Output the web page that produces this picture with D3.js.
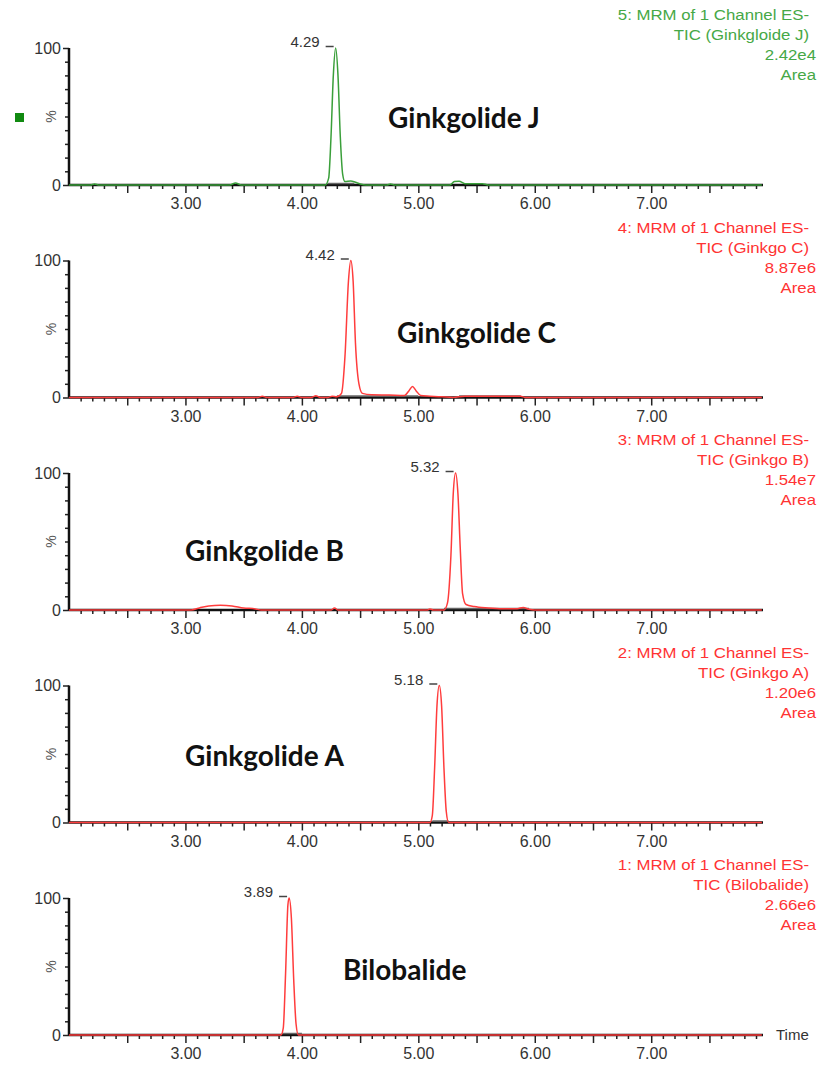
<!DOCTYPE html>
<html>
<head>
<meta charset="utf-8">
<script src="https://cdn.jsdelivr.net/npm/d3@7"></script>
<style>
  body { margin: 0; background: #fff; }
  svg { display: block; }
  .tick text { font-family: "Liberation Sans", Arial, sans-serif; }
</style>
</head>
<body>
<div id="chart"></div>
<script>
// chromatogram traces, [time (min), relative intensity %]
const traceJ = [[2.0,0],[2.18,0],[2.22,0.8],[2.26,0],[3.38,0],[3.43,1.5],[3.48,0],[4.2,0],[4.23,5],[4.25,35],[4.27,80],[4.29,100],[4.31,80],[4.33,35],[4.35,8],[4.37,2.5],[4.42,3],[4.46,2],[4.5,0.8],[4.55,0],[4.73,0],[4.76,0.8],[4.8,0],[5.27,0],[5.31,2.5],[5.35,2.8],[5.4,1],[5.55,1],[5.6,0],[7.95,0]];
const traceC = [[2.0,0],[3.62,0],[3.66,1],[3.7,0],[3.92,0],[3.96,1],[4.0,0],[4.08,0],[4.12,1.2],[4.16,0],[4.22,0],[4.26,1],[4.3,0.5],[4.34,3],[4.37,30],[4.4,85],[4.42,100],[4.44,85],[4.46,40],[4.49,10],[4.52,3],[4.6,2],[4.75,1.8],[4.88,1.5],[4.92,5],[4.95,8],[4.98,5],[5.02,1.5],[5.1,1],[5.2,0.5],[5.3,0],[5.4,1],[5.6,1],[5.88,1],[5.92,0],[7.95,0]];
const traceB = [[2.0,0],[3.05,0],[3.12,1.5],[3.2,3],[3.3,3.5],[3.4,3],[3.5,1.5],[3.6,0.8],[3.65,0],[4.25,0],[4.28,1.5],[4.31,0],[5.08,0],[5.1,0.8],[5.13,0],[5.22,0],[5.25,5],[5.28,40],[5.3,85],[5.32,100],[5.34,85],[5.36,45],[5.38,12],[5.41,4],[5.48,2.5],[5.6,1.5],[5.72,1],[5.85,1],[5.9,1.8],[5.95,0.5],[6.0,0],[7.95,0]];
const traceA = [[2.0,0],[5.1,0],[5.12,5],[5.14,40],[5.16,85],[5.18,100],[5.2,85],[5.22,40],[5.24,8],[5.26,0],[7.95,0]];
const traceBilo = [[2.0,0],[3.82,0],[3.84,5],[3.86,45],[3.88,95],[3.89,100],[3.91,85],[3.93,40],[3.95,8],[3.97,0],[7.95,0]];

const traces = [traceJ, traceC, traceB, traceA, traceBilo];
const compounds = ["Ginkgolide J", "Ginkgolide C", "Ginkgolide B", "Ginkgolide A", "Bilobalide"];
const retentionTimes = [4.29, 4.42, 5.32, 5.18, 3.89];
const channelLines = [
  ["5: MRM of 1 Channel ES-", "TIC (Ginkgloide J)", "2.42e4", "Area"],
  ["4: MRM of 1 Channel ES-", "TIC (Ginkgo C)", "8.87e6", "Area"],
  ["3: MRM of 1 Channel ES-", "TIC (Ginkgo B)", "1.54e7", "Area"],
  ["2: MRM of 1 Channel ES-", "TIC (Ginkgo A)", "1.20e6", "Area"],
  ["1: MRM of 1 Channel ES-", "TIC (Bilobalide)", "2.66e6", "Area"]
];
// integrated peak baselines (start, end)
const integrations = [[[4.22,4.45]], [[4.3,5.0],[5.35,5.88]], [[5.22,5.95]], [[5.12,5.26]], [[3.83,4.0]]];
const majorTicks = [3, 4, 5, 6, 7];
const yTicks = [0, 100];

const lineColors = ["#3a9f3a", "#ff3c3c", "#ff3c3c", "#ff3c3c", "#ff3c3c"];
const textColors = ["#46a846", "#ff3333", "#ff3333", "#ff3333", "#ff3333"];
// compound label positions [left x, baseline offset below the 100% line]
const labelPos = [[388, 80], [397, 82], [185, 88], [185, 80], [343, 82]];

const W = 820, H = 1068;
const panelStep = 212.5;
const top0 = 48, plotH = 137;

const svg = d3.select("#chart").append("svg")
    .attr("width", W).attr("height", H);

const x = d3.scaleLinear().domain([2.0, 7.96]).range([69, 763]);
const minorTicks = d3.range(21, 80).map(d => d / 10).filter(d => Math.abs(d * 2 - Math.round(d * 2)) > 0.01);
const halfTicks = [2.5, 3.5, 4.5, 5.5, 6.5, 7.5];

traces.forEach(function(trace, i) {
    const y100 = top0 + i * panelStep;
    const y = d3.scaleLinear().domain([0, 100]).range([y100 + plotH, y100]);
    const g = svg.append("g");

    // x axis: minor, half and major ticks
    const xMinor = d3.axisBottom(x).tickValues(minorTicks).tickSize(4).tickFormat("");
    const xHalf = d3.axisBottom(x).tickValues(halfTicks).tickSize(8).tickFormat("");
    const xMajor = d3.axisBottom(x).tickValues(majorTicks).tickSize(8).tickPadding(5).tickFormat(d3.format(".2f"));
    [xMinor, xHalf, xMajor].forEach(function(ax) {
        const a = g.append("g").attr("transform", "translate(0," + y(0) + ")").call(ax);
        a.select(".domain").remove();
        a.selectAll(".tick line").attr("stroke", "#222").attr("stroke-width", 1.5);
    });
    g.selectAll(".tick text").attr("font-size", 16).attr("fill", "#333");

    // y axis
    const yMinor = d3.axisLeft(y).tickValues(d3.range(10, 100, 10)).tickSize(4).tickFormat("");
    const yMajor = d3.axisLeft(y).tickValues(yTicks).tickSize(6).tickPadding(2).tickFormat(d3.format("d"));
    [yMinor, yMajor].forEach(function(ax) {
        const a = g.append("g").attr("transform", "translate(" + x.range()[0] + ",0)").call(ax);
        a.select(".domain").remove();
        a.selectAll(".tick line").attr("stroke", "#222").attr("stroke-width", 1.5);
        a.selectAll(".tick text").attr("font-size", 16).attr("fill", "#333");
    });

    // axis lines
    g.append("line").attr("x1", x.range()[0]).attr("x2", x.range()[1])
        .attr("y1", y(0)).attr("y2", y(0)).attr("stroke", "#111").attr("stroke-width", 2.5);
    g.append("line").attr("x1", x.range()[0]).attr("x2", x.range()[0])
        .attr("y1", y(100)).attr("y2", y(0)).attr("stroke", "#111").attr("stroke-width", 2.5);

    // "%" label
    g.append("text")
        .attr("transform", "translate(56," + y(50) + ") rotate(-90)")
        .attr("text-anchor", "middle")
        .attr("font-family", "Liberation Sans, Arial, sans-serif")
        .attr("font-size", 14).attr("fill", "#555")
        .text("%");

    // integration baselines
    integrations[i].forEach(function(seg) {
        g.append("line").attr("x1", x(seg[0])).attr("x2", x(seg[1]))
            .attr("y1", y(0) - 1.5).attr("y2", y(0) - 1.5)
            .attr("stroke", "#666").attr("stroke-width", 1.5);
    });

    // trace
    const line = d3.line()
        .x(d => x(d[0]))
        .y(d => y(d[1]))
        .curve(d3.curveMonotoneX);
    g.append("path").datum(trace)
        .attr("d", line)
        .attr("fill", "none")
        .attr("stroke", lineColors[i])
        .attr("stroke-width", 1.5);

    // retention time label
    const rt = retentionTimes[i];
    g.append("line").attr("x1", x(rt) - 10).attr("x2", x(rt) - 2)
        .attr("y1", y(100) - 1.5).attr("y2", y(100) - 1.5)
        .attr("stroke", "#444").attr("stroke-width", 1.5);
    g.append("text")
        .attr("x", x(rt) - 16).attr("y", y(100) - 1)
        .attr("text-anchor", "end")
        .attr("font-family", "Liberation Sans, Arial, sans-serif")
        .attr("font-size", 15).attr("fill", "#333")
        .text(d3.format(".2f")(rt));

    // channel description, top right
    channelLines[i].forEach(function(t, k) {
        g.append("text")
            .attr("transform", "translate(" + (k < 2 ? 809 : 816) + "," + (y100 - 28 + k * 20) + ") scale(1.12,1)")
            .attr("text-anchor", "end")
            .attr("font-family", "Liberation Sans, Arial, sans-serif")
            .attr("font-size", 15).attr("fill", textColors[i])
            .text(t);
    });

    // compound name
    g.append("text")
        .attr("x", labelPos[i][0]).attr("y", y100 + labelPos[i][1])
        .attr("font-family", "Lato, sans-serif")
        .attr("font-weight", "bold")
        .attr("font-size", 28).attr("fill", "#111")
        .text(compounds[i]);
});

// channel marker square in the first panel
svg.append("rect").attr("x", 15).attr("y", 113).attr("width", 9).attr("height", 9)
    .attr("fill", "#118a11");

// "Time" axis title on the last panel
svg.append("text")
    .attr("x", 776).attr("y", top0 + 4 * panelStep + plotH + 5)
    .attr("font-family", "Liberation Sans, Arial, sans-serif")
    .attr("font-size", 15).attr("fill", "#333")
    .text("Time");
</script>
</body>
</html>
